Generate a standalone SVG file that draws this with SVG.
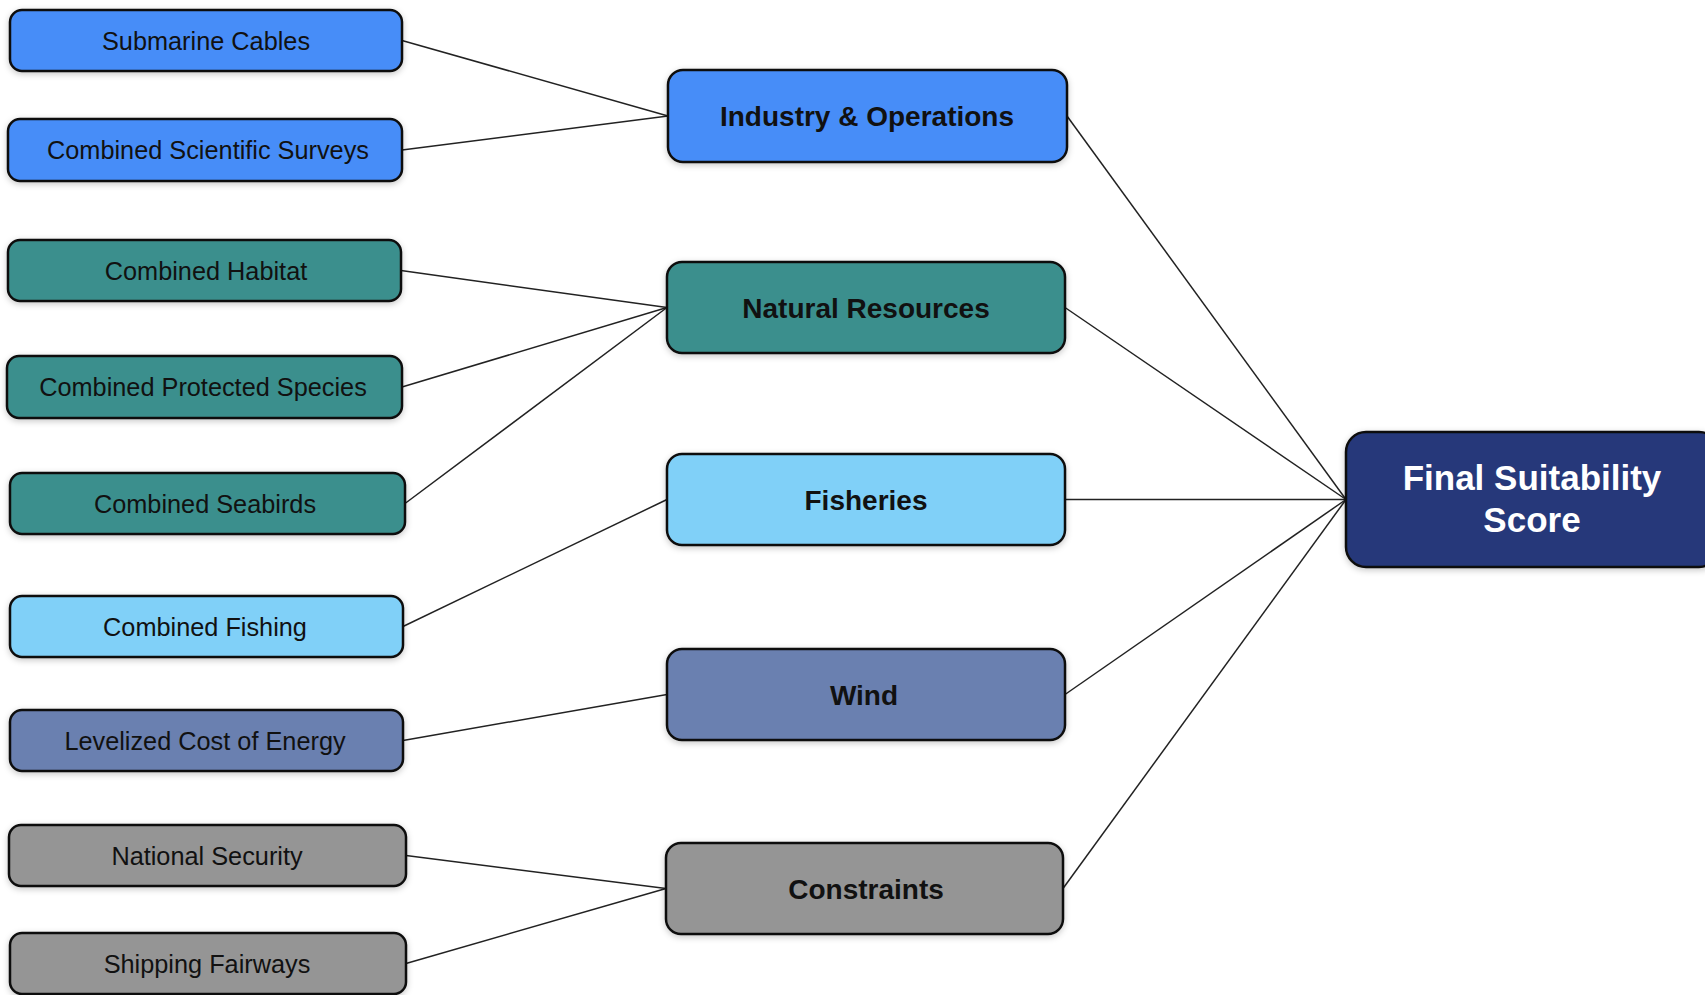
<svg xmlns="http://www.w3.org/2000/svg" width="1705" height="995" viewBox="0 0 1705 995">
<defs>
<filter id="sh" x="-10%" y="-20%" width="120%" height="140%">
<feDropShadow dx="0" dy="2" stdDeviation="3" flood-color="#000" flood-opacity="0.22"/>
</filter>
<style>
.box{stroke:#111;stroke-width:2.5;filter:url(#sh)}
.t{font-family:"Liberation Sans",Arial,sans-serif;font-size:25.3px;fill:#111;text-anchor:middle}
.m{font-family:"Liberation Sans",Arial,sans-serif;font-size:28px;font-weight:bold;fill:#111;text-anchor:middle}
.f{font-family:"Liberation Sans",Arial,sans-serif;font-size:35px;font-weight:bold;fill:#fff;text-anchor:middle}
.blue{fill:#478DF8}
.teal{fill:#3B8F8D}
.lb{fill:#80D0F8}
.wind{fill:#6A80B0}
.gray{fill:#959595}
.navy{fill:#25387A}
.c line{stroke:#222;stroke-width:1.5}
</style>
</defs>
<rect width="1705" height="995" fill="#fff"/>
<g class="c" id="connectors">
<line x1="402" y1="40.5" x2="668" y2="116"/>
<line x1="402" y1="150" x2="668" y2="116"/>
<line x1="401" y1="270.5" x2="667" y2="307.5"/>
<line x1="402" y1="387" x2="667" y2="307.5"/>
<line x1="405" y1="503.5" x2="667" y2="307.5"/>
<line x1="403" y1="626.5" x2="667" y2="499.5"/>
<line x1="403" y1="740.5" x2="667" y2="694.5"/>
<line x1="406" y1="855.5" x2="666" y2="888.5"/>
<line x1="406" y1="963.5" x2="666" y2="888.5"/>
<line x1="1067" y1="116" x2="1346" y2="499.5"/>
<line x1="1065" y1="307.5" x2="1346" y2="499.5"/>
<line x1="1065" y1="499.5" x2="1346" y2="499.5"/>
<line x1="1065" y1="694.5" x2="1346" y2="499.5"/>
<line x1="1063" y1="888.5" x2="1346" y2="499.5"/>
</g>
<g id="n-submarine"><rect class="box blue" x="10" y="10" width="392" height="61" rx="12"/><text class="t" x="206" y="49.5">Submarine Cables</text></g>
<g id="n-surveys"><rect class="box blue" x="8" y="119" width="394" height="62" rx="12"/><text class="t" x="208" y="159">Combined Scientific Surveys</text></g>
<g id="n-habitat"><rect class="box teal" x="8" y="240" width="393" height="61" rx="12"/><text class="t" x="206" y="279.5">Combined Habitat</text></g>
<g id="n-species"><rect class="box teal" x="7" y="356" width="395" height="62" rx="12"/><text class="t" x="203" y="396">Combined Protected Species</text></g>
<g id="n-seabirds"><rect class="box teal" x="10" y="473" width="395" height="61" rx="12"/><text class="t" x="205" y="512.5">Combined Seabirds</text></g>
<g id="n-fishing"><rect class="box lb" x="10" y="596" width="393" height="61" rx="12"/><text class="t" x="205" y="635.5">Combined Fishing</text></g>
<g id="n-lcoe"><rect class="box wind" x="10" y="710" width="393" height="61" rx="12"/><text class="t" x="205" y="749.5">Levelized Cost of Energy</text></g>
<g id="n-security"><rect class="box gray" x="9" y="825" width="397" height="61" rx="12"/><text class="t" x="207" y="864.5">National Security</text></g>
<g id="n-shipping"><rect class="box gray" x="10" y="933" width="396" height="61" rx="12"/><text class="t" x="207" y="972.5">Shipping Fairways</text></g>
<g id="n-industry"><rect class="box blue" x="668" y="70" width="399" height="92" rx="15"/><text class="m" x="867" y="126">Industry &amp; Operations</text></g>
<g id="n-natural"><rect class="box teal" x="667" y="262" width="398" height="91" rx="15"/><text class="m" x="866" y="317.5">Natural Resources</text></g>
<g id="n-fisheries"><rect class="box lb" x="667" y="454" width="398" height="91" rx="15"/><text class="m" x="866" y="510">Fisheries</text></g>
<g id="n-wind"><rect class="box wind" x="667" y="649" width="398" height="91" rx="15"/><text class="m" x="864" y="704.5">Wind</text></g>
<g id="n-constraints"><rect class="box gray" x="666" y="843" width="397" height="91" rx="15"/><text class="m" x="866" y="898.5">Constraints</text></g>
<g id="n-final"><rect class="box navy" x="1346" y="432" width="373" height="135" rx="20"/><text class="f" x="1532" y="490">Final Suitability</text><text class="f" x="1532" y="532">Score</text></g>
</svg>
